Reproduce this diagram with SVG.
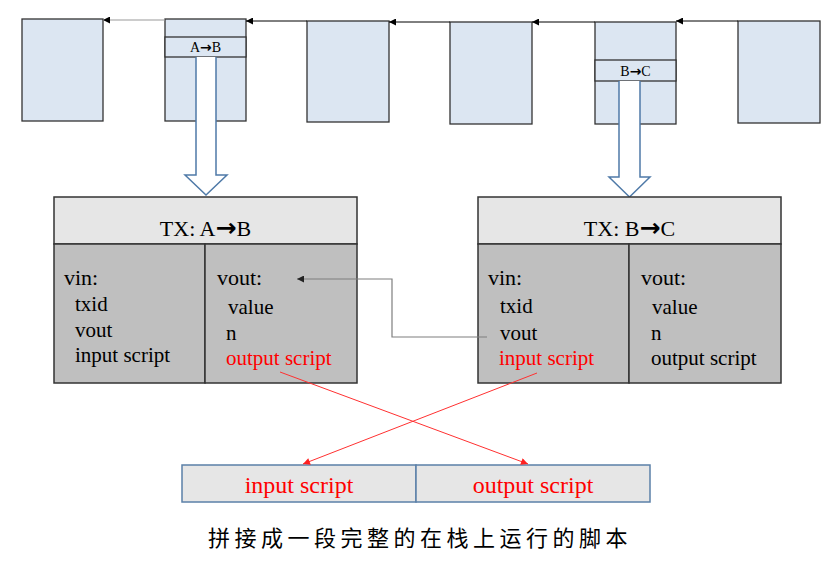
<svg xmlns="http://www.w3.org/2000/svg" width="836" height="571" viewBox="0 0 836 571">
<defs>
<marker id="ab" viewBox="0 0 10 10" refX="10" refY="5" markerWidth="8" markerHeight="7" markerUnits="userSpaceOnUse" orient="auto"><path d="M0,0L10,5L0,10z" fill="#000"/></marker>
<marker id="ag" viewBox="0 0 10 10" refX="10" refY="5" markerWidth="8" markerHeight="7" markerUnits="userSpaceOnUse" orient="auto"><path d="M0,0L10,5L0,10z" fill="#222"/></marker>
<marker id="ar" viewBox="0 0 10 10" refX="10" refY="5" markerWidth="9" markerHeight="7" markerUnits="userSpaceOnUse" orient="auto"><path d="M0,0L10,5L0,10z" fill="#ff2020"/></marker>
</defs>
<style>
.blk{fill:#dce6f2;stroke:#333;stroke-width:1.3}
.hd{fill:#e6e6e6;stroke:#333;stroke-width:1.5}
.bd{fill:#bfbfbf;stroke:#333;stroke-width:1.5}
.ha{fill:#fff;stroke:#4f7aa8;stroke-width:1.5}
.bt{fill:#e6e6e6;stroke:#5b80a8;stroke-width:1.5}
text{font-family:"Liberation Serif","Times New Roman",serif;fill:#000}
.t{font-size:22px;text-anchor:middle}
.h{font-size:22px}
.i{font-size:21px}
.s{font-size:14px;text-anchor:middle}
.red{fill:#ff0000}
.bb{font-size:24px;text-anchor:middle;fill:#ff0000}
.arw{font-family:"DejaVu Sans",sans-serif;font-weight:bold}
.arl{font-family:"DejaVu Sans",sans-serif;font-weight:bold;font-size:25px}
</style>
<g id="block1"><rect class="blk" x="22" y="19" width="81" height="102"/></g>
<g id="block2"><rect class="blk" x="165" y="19" width="81" height="102"/><rect class="blk" x="165" y="37" width="81" height="20"/><text class="s" x="205.5" y="52">A<tspan class="arw">→</tspan>B</text></g>
<g id="block3"><rect class="blk" x="307" y="21" width="82" height="101"/></g>
<g id="block4"><rect class="blk" x="450" y="22" width="82" height="102"/></g>
<g id="block5"><rect class="blk" x="595" y="22" width="81" height="102"/><rect class="blk" x="595" y="60" width="81" height="21"/><text class="s" x="635.5" y="76">B<tspan class="arw">→</tspan>C</text></g>
<g id="block6"><rect class="blk" x="738" y="21" width="82" height="102"/></g>
<g id="hollow1"><path class="ha" d="M196,57V175H185L206,195L227,175H216V57"/></g>
<g id="hollow2"><path class="ha" d="M619,81V177H609L629.5,197L650,177H640V81"/></g>
<g id="txAB">
<rect class="hd" x="54" y="197" width="303" height="47"/>
<rect class="bd" x="54" y="244" width="151" height="139"/>
<rect class="bd" x="205" y="244" width="152" height="139"/>
<text class="t" x="205.5" y="236">TX: A<tspan class="arl">→</tspan>B</text>
<text class="h" x="64" y="285">vin:</text>
<text class="i" x="75" y="311">txid</text>
<text class="i" x="75" y="337">vout</text>
<text class="i" x="75" y="362">input script</text>
<text class="h" x="217" y="285">vout:</text>
<text class="i" x="228" y="314">value</text>
<text class="i" x="226" y="340">n</text>
<text class="i red" x="226" y="365">output script</text>
</g>
<g id="txBC">
<rect class="hd" x="478" y="197" width="303" height="47"/>
<rect class="bd" x="478" y="244" width="151" height="139"/>
<rect class="bd" x="629" y="244" width="152" height="139"/>
<text class="t" x="629.5" y="236">TX: B<tspan class="arl">→</tspan>C</text>
<text class="h" x="488" y="285">vin:</text>
<text class="i" x="500" y="313">txid</text>
<text class="i" x="500" y="340">vout</text>
<text class="i red" x="499" y="365">input script</text>
<text class="h" x="641" y="285">vout:</text>
<text class="i" x="652" y="314">value</text>
<text class="i" x="651" y="340">n</text>
<text class="i" x="651" y="365">output script</text>
</g>
<g id="script">
<rect class="bt" x="182" y="465" width="234" height="37"/>
<rect class="bt" x="416" y="465" width="234" height="37"/>
<text class="bb" x="299" y="493">input script</text>
<text class="bb" x="533" y="493">output script</text>
</g>
<g id="caption"><text x="208" y="546" style="font-family:'Liberation Serif','Noto Sans CJK SC',serif;font-size:22px;letter-spacing:4.5px">拼接成一段完整的在栈上运行的脚本</text></g>
<g id="connectors" fill="none">
<line x1="165" y1="20" x2="103" y2="20" stroke="#999" stroke-width="1.2" marker-end="url(#ab)"/>
<line x1="307" y1="21" x2="246" y2="21" stroke="#000" stroke-width="1" marker-end="url(#ab)"/>
<line x1="450" y1="22" x2="389" y2="22" stroke="#000" stroke-width="1" marker-end="url(#ab)"/>
<line x1="595" y1="22" x2="532" y2="22" stroke="#000" stroke-width="1" marker-end="url(#ab)"/>
<line x1="738" y1="21" x2="676" y2="21" stroke="#000" stroke-width="1" marker-end="url(#ab)"/>
<polyline points="487,337 392,337 392,279 297,279" stroke="#7f7f7f" stroke-width="1.2" marker-end="url(#ag)"/>
<line x1="280" y1="372" x2="528" y2="464" stroke="#ff3030" stroke-width="1" marker-end="url(#ar)"/>
<line x1="537" y1="373" x2="303" y2="464" stroke="#ff3030" stroke-width="1" marker-end="url(#ar)"/>
</g>
</svg>
